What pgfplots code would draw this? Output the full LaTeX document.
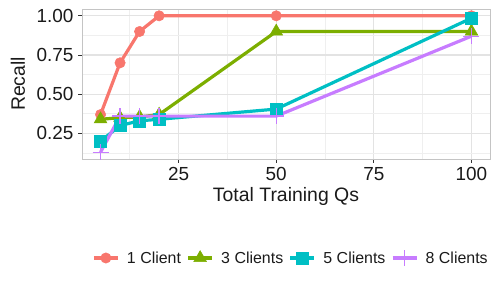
\documentclass[border=0pt]{standalone}
\usepackage{fontspec}
\setmainfont{Liberation Sans}
\usepackage{pgfplots}
\pgfplotsset{compat=1.18}
\definecolor{c1}{HTML}{F8766D}
\definecolor{c3}{HTML}{7CAE00}
\definecolor{c5}{HTML}{00BFC4}
\definecolor{c8}{HTML}{C77CFF}
\definecolor{gridmaj}{HTML}{E3E3E3}
\definecolor{gridmin}{HTML}{EFEFEF}
\definecolor{bordc}{HTML}{C4C4C4}
\definecolor{tickc}{HTML}{333333}
\definecolor{txt}{HTML}{1A1A1A}
\begin{document}
\begin{tikzpicture}
\useasboundingbox (-82bp,-135bp) rectangle (418bp,159bp);
\begin{axis}[
 scale only axis, width=408bp, height=150bp,
 xmin=0.25, xmax=104.75, ymin=0.0865, ymax=1.0435,
 xtick={25,50,75,100}, ytick={0.25,0.5,0.75,1},
 minor xtick={12.5,37.5,62.5,87.5}, minor ytick={0.125,0.375,0.625,0.875},
 grid=both,
 major grid style={gridmaj, line width=1.3bp},
 minor grid style={gridmin, line width=0.7bp},
 axis line style={bordc, line width=0.9bp},
 tick align=outside, tick pos=left,
 major tick length=3.5bp, minor tick length=0pt,
 tick style={tickc, line width=0.9bp},
 /pgf/number format/assume math mode=true,
 ticklabel style={font=\fontsize{19}{22}\selectfont, text=txt},
 xticklabel style={yshift=-1bp},
 yticklabel style={xshift=-1.5bp, /pgf/number format/.cd, fixed, fixed zerofill, precision=2},
 xlabel={Total Training Qs}, ylabel={Recall},
 every axis x label/.style={at={(axis description cs:0.5,0)}, anchor=center, yshift=-37bp, font=\fontsize{19.5}{22}\selectfont, text=txt},
 every axis y label/.style={at={(axis description cs:0,0.5)}, anchor=center, xshift=-64bp, rotate=90, font=\fontsize{19.5}{22}\selectfont, text=txt},
 legend columns=4,
 legend style={draw=none, fill=none, at={(0.5,0)}, anchor=center, yshift=-99bp, xshift=4bp,
   font=\fontsize{16}{19}\selectfont, text=txt, nodes={inner sep=0pt},
   /tikz/every odd column/.append style={column sep=7.5bp},
   /tikz/every even column/.append style={column sep=5.5bp}},
 legend cell align=left,
 legend image code/.code={\draw[mark repeat=2,mark phase=2] plot coordinates {(0bp,0bp) (12bp,0bp) (24bp,0bp)};},
 every axis plot/.append style={line width=3.2bp},
]
\addplot[c1, mark=*, mark size=5.2bp, mark options={solid,line width=0.5bp}] coordinates {(5,0.37) (10,0.70) (15,0.90) (20,1.00) (50,1.00) (100,1.00)};
\addlegendentry{1 Client}
\addplot[c3, mark=triangle*, mark size=7.4bp, mark options={solid,line width=0.5bp}] coordinates {(5,0.34) (10,0.35) (15,0.355) (20,0.37) (50,0.90) (100,0.90)};
\addlegendentry{3 Clients}
\addplot[c5, mark=square*, mark size=6bp, mark options={solid,line width=0.5bp}] coordinates {(5,0.20) (10,0.30) (15,0.33) (20,0.34) (50,0.405) (100,0.985)};
\addlegendentry{5 Clients}
\addplot[c8, mark=+, mark size=8bp, mark options={solid,line width=1.3bp}] coordinates {(5,0.13) (10,0.36) (15,0.36) (20,0.36) (50,0.36) (100,0.87)};
\addlegendentry{8 Clients}
\end{axis}
\end{tikzpicture}
\end{document}
